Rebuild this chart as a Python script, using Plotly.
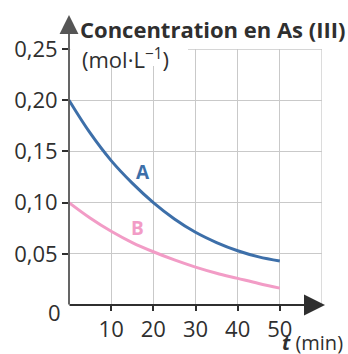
import plotly.graph_objects as go

# ---- data ----
t_min = [0, 5, 10, 15, 20, 25, 30, 35, 40, 45, 50]
conc_A = [0.200, 0.168, 0.141, 0.119, 0.100, 0.084, 0.071, 0.061, 0.053, 0.047, 0.043]
conc_B = [0.100, 0.085, 0.072, 0.061, 0.052, 0.044, 0.037, 0.031, 0.026, 0.021, 0.0165]
x_ticks = [10, 20, 30, 40, 50]
y_ticks = [0.05, 0.10, 0.15, 0.20, 0.25]
y_ticktext = ["0,05", "0,10", "0,15", "0,20", "0,25"]
labels = {"A": (17.5, 0.130), "B": (16.2, 0.075)}

BLUE = "#3d6fa9"
PINK = "#f29cc6"
DARK = "#2f2f2f"
GRID = "#c9c9c9"
FONT = "Open Sans"

fig = go.Figure()
fig.add_trace(go.Scatter(x=t_min, y=conc_A, mode="lines", line=dict(color=BLUE, width=3, shape="spline"),
                         hoverinfo="skip"))
fig.add_trace(go.Scatter(x=t_min, y=conc_B, mode="lines", line=dict(color=PINK, width=3, shape="spline"),
                         hoverinfo="skip"))

W, H = 348, 354
L, R, T, B = 69, 26, 49, 49
pw, ph = W - L - R, H - T - B


def px_x(px):
    return (px - L) / pw


def px_y(py):
    return (H - B - py) / ph


shapes = [
    # right and top edges of the grid
    dict(type="line", xref="x", yref="y", x0=60, x1=60, y0=0, y1=0.25, line=dict(color=GRID, width=1.3), layer="below"),
    dict(type="line", xref="x", yref="y", x0=0, x1=60, y0=0.25, y1=0.25, line=dict(color=GRID, width=1.3), layer="below"),
    # white box behind the axis title
    dict(type="rect", xref="paper", yref="paper", x0=px_x(70.5), x1=px_x(188), y0=px_y(66), y1=px_y(38),
         fillcolor="white", line=dict(width=0), layer="above"),
]

annotations = [
    # x axis arrow
    dict(xref="paper", yref="paper", x=px_x(325), y=0, ax=-(325 - L) - 1, ay=0, axref="pixel", ayref="pixel",
         text="", showarrow=True, arrowhead=2, arrowsize=2.1, arrowwidth=2, arrowcolor=DARK, standoff=0),
    # y axis arrow
    dict(xref="paper", yref="paper", x=0, y=px_y(15), ax=0, ay=(H - B - 15) + 1, axref="pixel", ayref="pixel",
         text="", showarrow=True, arrowhead=2, arrowsize=2.1, arrowwidth=1.8, arrowcolor="#555555", standoff=0),
    dict(xref="paper", yref="paper", x=px_x(78), y=px_y(29), xanchor="left", yanchor="middle",
         text="<b>Concentration en As (III)</b>", showarrow=False,
         font=dict(family=FONT, size=22, color=DARK)),
    dict(xref="paper", yref="paper", x=px_x(80), y=px_y(58), xanchor="left", yanchor="middle",
         text="(mol·L<sup>−1</sup>)", showarrow=False,
         font=dict(family=FONT, size=22, color=DARK)),
    dict(xref="paper", yref="paper", x=px_x(63), y=px_y(312), xanchor="right", yanchor="middle",
         text="0", showarrow=False, font=dict(family=FONT, size=22, color=DARK)),
    dict(xref="paper", yref="paper", x=px_x(345), y=px_y(342), xanchor="right", yanchor="middle",
         text="<b><i>t</i></b> (min)", showarrow=False, font=dict(family=FONT, size=20, color=DARK)),
]
colors = {"A": BLUE, "B": PINK}
for name, (lx, ly) in labels.items():
    annotations.append(dict(xref="x", yref="y", x=lx, y=ly, text=f"<b>{name}</b>", showarrow=False,
                            font=dict(family=FONT, size=19, color=colors[name])))

fig.update_layout(
    width=W, height=H, margin=dict(l=L, r=R, t=T, b=B),
    paper_bgcolor="white", plot_bgcolor="white", showlegend=False,
    font=dict(family=FONT, size=22, color=DARK),
    shapes=shapes, annotations=annotations,
    xaxis=dict(range=[0, 60], tickvals=x_ticks, ticks="outside", ticklen=5, tickwidth=1.5, tickcolor=DARK,
               showgrid=True, gridcolor=GRID, gridwidth=1.3, zeroline=False, showline=False,
               tickfont=dict(family=FONT, size=22, color=DARK), fixedrange=True),
    yaxis=dict(range=[0, 0.25], tickvals=y_ticks, ticktext=y_ticktext, ticks="outside", ticklen=6, tickwidth=1.5,
               tickcolor=DARK, showgrid=True, gridcolor=GRID, gridwidth=1.3, zeroline=False, showline=False,
               tickfont=dict(family=FONT, size=22, color=DARK), ticklabelstandoff=0, fixedrange=True),
)

fig.write_html("out.html", config={"displayModeBar": False})
